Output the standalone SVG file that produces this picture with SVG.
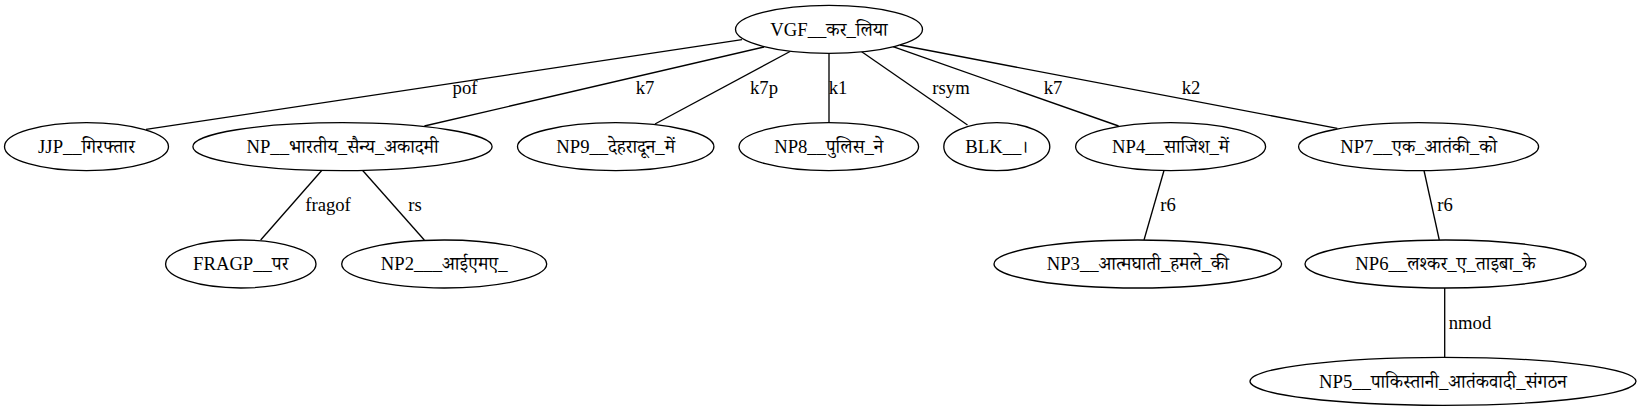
<svg xmlns="http://www.w3.org/2000/svg" width="1641" height="411" viewBox="0 0 1641 411">
<style>
.bg{fill:#ffffff}
.node ellipse{fill:#ffffff;stroke:#000000;stroke-width:1.33}
.node text{font-family:'Liberation Serif','Noto Serif Devanagari','Noto Sans Devanagari',serif;font-size:18.67px;fill:#000000;text-anchor:middle}
.lbl{font-family:'Liberation Serif',serif;font-size:18.67px;fill:#000000;text-anchor:middle}
.edge{stroke:#000000;stroke-width:1.33;fill:none}
</style>
<rect class="bg" x="0" y="0" width="1641" height="411"/>
<g id="connectors">
<line class="edge" x1="742" y1="39.6" x2="146" y2="129.4"/>
<text class="lbl" x="465" y="94">pof</text>
<line class="edge" x1="764" y1="47" x2="424.4" y2="126"/>
<text class="lbl" x="645" y="94">k7</text>
<line class="edge" x1="790" y1="51.5" x2="655" y2="124"/>
<text class="lbl" x="764" y="94">k7p</text>
<line class="edge" x1="829" y1="53" x2="829" y2="123"/>
<text class="lbl" x="838" y="94">k1</text>
<line class="edge" x1="861.7" y1="51.7" x2="967.5" y2="125"/>
<text class="lbl" x="951" y="94">rsym</text>
<line class="edge" x1="893" y1="46.7" x2="1118.6" y2="126"/>
<text class="lbl" x="1053" y="94">k7</text>
<line class="edge" x1="900" y1="45" x2="1337.3" y2="128.3"/>
<text class="lbl" x="1191" y="94">k2</text>
<line class="edge" x1="321.7" y1="170.5" x2="260.7" y2="240"/>
<text class="lbl" x="328" y="211">fragof</text>
<line class="edge" x1="362.7" y1="170.5" x2="424.3" y2="240"/>
<text class="lbl" x="415" y="211">rs</text>
<line class="edge" x1="1164" y1="170.5" x2="1144" y2="240"/>
<text class="lbl" x="1168" y="211">r6</text>
<line class="edge" x1="1424" y1="170.5" x2="1439.3" y2="240"/>
<text class="lbl" x="1445" y="211">r6</text>
<line class="edge" x1="1444.7" y1="288" x2="1444.7" y2="357.3"/>
<text class="lbl" x="1470" y="328.5">nmod</text>
</g>
<g id="VGF" class="node"><ellipse cx="829" cy="29.3" rx="93.5" ry="24"/><text x="829" y="35.5">VGF__कर_लिया</text></g>
<g id="JJP" class="node"><ellipse cx="86.5" cy="146.7" rx="82" ry="24"/><text x="86.5" y="152.9">JJP__गिरफ्तार</text></g>
<g id="NP" class="node"><ellipse cx="342.5" cy="146.7" rx="149.6" ry="24"/><text x="342.5" y="152.9">NP__भारतीय_सैन्य_अकादमी</text></g>
<g id="NP9" class="node"><ellipse cx="615.7" cy="146.7" rx="98.2" ry="24"/><text x="615.7" y="152.9">NP9__देहरादून_में</text></g>
<g id="NP8" class="node"><ellipse cx="828.8" cy="146.7" rx="89.8" ry="24"/><text x="828.8" y="152.9">NP8__पुलिस_ने</text></g>
<g id="BLK" class="node"><ellipse cx="996.8" cy="146.7" rx="53" ry="24"/><text x="996.8" y="152.9">BLK__।</text></g>
<g id="NP4" class="node"><ellipse cx="1170.6" cy="146.7" rx="95" ry="24"/><text x="1170.6" y="152.9">NP4__साजिश_में</text></g>
<g id="NP7" class="node"><ellipse cx="1418.6" cy="146.7" rx="120" ry="24"/><text x="1418.6" y="152.9">NP7__एक_आतंकी_को</text></g>
<g id="FRAGP" class="node"><ellipse cx="240.8" cy="264" rx="75.2" ry="24"/><text x="240.8" y="270.2">FRAGP__पर</text></g>
<g id="NP2" class="node"><ellipse cx="444.2" cy="264" rx="102.5" ry="24"/><text x="444.2" y="270.2">NP2___आईएमए_</text></g>
<g id="NP3" class="node"><ellipse cx="1137.8" cy="264" rx="143.8" ry="24"/><text x="1137.8" y="270.2">NP3__आत्मघाती_हमले_की</text></g>
<g id="NP6" class="node"><ellipse cx="1445.5" cy="264" rx="140.5" ry="24"/><text x="1445.5" y="270.2">NP6__लश्कर_ए_ताइबा_के</text></g>
<g id="NP5" class="node"><ellipse cx="1443" cy="381.3" rx="193" ry="24"/><text x="1443" y="387.5">NP5__पाकिस्तानी_आतंकवादी_संगठन</text></g>
</svg>
